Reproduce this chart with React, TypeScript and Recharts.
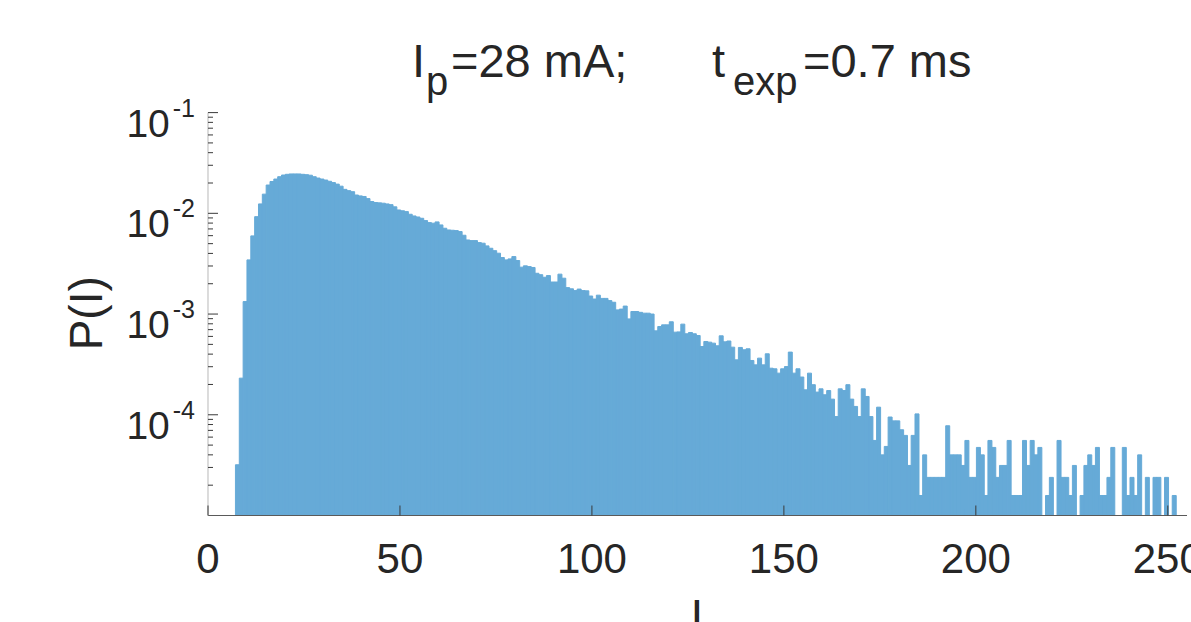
import { BarChart, Bar, XAxis, YAxis } from 'recharts';

// histogram P(I): one bin per intensity unit, first bin edge at I = 7.15
const firstEdge = 7.15;
const binWidth = 1;
const probability = [
  3.19e-5, 2.31e-4, 1.33e-3, 3.45e-3, 5.97e-3, 9.27e-3, 1.24e-2, 1.55e-2, 1.91e-2, 2.07e-2,
  2.19e-2, 2.31e-2, 2.4e-2, 2.44e-2, 2.46e-2, 2.46e-2, 2.46e-2, 2.44e-2, 2.42e-2, 2.39e-2,
  2.31e-2, 2.24e-2, 2.19e-2, 2.14e-2, 2.08e-2, 2.02e-2, 1.95e-2, 1.86e-2, 1.73e-2, 1.68e-2,
  1.64e-2, 1.52e-2, 1.49e-2, 1.47e-2, 1.4e-2, 1.31e-2, 1.28e-2, 1.27e-2, 1.26e-2, 1.24e-2,
  1.22e-2, 1.16e-2, 1.08e-2, 1.06e-2, 1.04e-2, 9.79e-3, 9.42e-3, 9.2e-3, 8.93e-3, 8.47e-3,
  8.09e-3, 7.98e-3, 8.22e-3, 7.67e-3, 7.11e-3, 6.84e-3, 6.79e-3, 6.74e-3, 6.59e-3, 6.06e-3,
  5.44e-3, 5.36e-3, 5.36e-3, 5.12e-3, 5.05e-3, 4.75e-3, 4.5e-3, 4.26e-3, 4.02e-3, 3.64e-3,
  3.45e-3, 3.53e-3, 3.72e-3, 3.4e-3, 2.92e-3, 3.01e-3, 2.96e-3, 2.9e-3, 2.54e-3, 2.46e-3,
  2.32e-3, 2.41e-3, 2.08e-3, 2.08e-3, 2.49e-3, 2.27e-3, 1.83e-3, 1.78e-3, 1.71e-3, 1.77e-3,
  1.71e-3, 1.7e-3, 1.51e-3, 1.41e-3, 1.54e-3, 1.43e-3, 1.43e-3, 1.36e-3, 1.31e-3, 1.1e-3,
  1.12e-3, 1.2e-3, 8.95e-4, 1.06e-3, 1.06e-3, 1.04e-3, 1.02e-3, 1.02e-3, 1.0e-3, 6.81e-4,
  7.52e-4, 7.81e-4, 7.81e-4, 8.38e-4, 6.61e-4, 6.65e-4, 7.94e-4, 6.37e-4, 6.56e-4, 6.37e-4,
  6.12e-4, 4.76e-4, 5.34e-4, 5.26e-4, 5.14e-4, 4.84e-4, 6.08e-4, 5.3e-4, 5.4e-4, 4.69e-4,
  3.51e-4, 4.66e-4, 4.42e-4, 4.52e-4, 3.46e-4, 3.13e-4, 3.65e-4, 3.13e-4, 4.03e-4, 2.9e-4,
  2.86e-4, 2.59e-4, 2.86e-4, 3.01e-4, 4.19e-4, 2.59e-4, 2.86e-4, 2.37e-4, 1.77e-4, 2.59e-4,
  1.99e-4, 1.68e-4, 1.81e-4, 1.58e-4, 1.74e-4, 1.43e-4, 9.6e-5, 1.81e-4, 1.74e-4, 1.99e-4,
  1.43e-4, 1.21e-4, 9.6e-5, 1.81e-4, 1.52e-4, 9.6e-5, 5.56e-5, 1.19e-4, 4.0e-5, 4.85e-5,
  9.5e-5, 8.7e-5, 8.7e-5, 7.1e-5, 6.24e-5, 3.14e-5, 6.24e-5, 1.02e-4, 1.58e-5, 4.0e-5,
  2.39e-5, 2.39e-5, 2.39e-5, 2.39e-5, 2.39e-5, 7.78e-5, 4.0e-5, 4.0e-5, 4.0e-5, 3.14e-5,
  5.56e-5, 2.39e-5, 2.39e-5, 4.74e-5, 4.0e-5, 1.58e-5, 5.56e-5, 4.74e-5, 2.39e-5, 3.14e-5,
  3.14e-5, 5.56e-5, 1.58e-5, 1.58e-5, 1.58e-5, 5.56e-5, 3.14e-5, 5.56e-5, 4.0e-5, 4.74e-5,
  null, 1.58e-5, 2.39e-5, null, 5.56e-5, 2.39e-5, 2.39e-5, 1.58e-5, 3.14e-5, null,
  1.58e-5, 3.14e-5, 4.0e-5, 3.14e-5, 4.74e-5, 1.58e-5, 1.58e-5, 2.39e-5, 4.74e-5, null,
  null, 4.74e-5, 1.58e-5, 2.39e-5, 1.58e-5, 4.0e-5, null, 2.39e-5, null, 2.39e-5,
  2.39e-5, null, 2.39e-5, null, 1.58e-5,
];

const xTicks = [0, 50, 100, 150, 200, 250];
const yMajor = [1e-4, 1e-3, 1e-2, 1e-1];
const yMinorMult = [2, 3, 4, 5, 6, 7, 8, 9];
const yDecades = [1e-5, 1e-4, 1e-3, 1e-2];

const yTicks = [
  ...yMajor,
  ...yDecades.flatMap((d) => yMinorMult.map((m) => m * d)),
].sort((a, b) => a - b);

const rows = probability.map((p, i) => ({
  I: firstEdge + i * binWidth + binWidth / 2,
  p,
}));

const FONT = '"Liberation Sans", Arial, Helvetica, sans-serif';
const TEXT = '#262626';
const TICK = '#3a3a3a';
const BAR = '#66aad7';

const isMajor = (v: number) => {
  const l = Math.log10(v);
  return Math.abs(l - Math.round(l)) < 1e-6;
};

const BottomTick = ({ x, y, payload }: any) => (
  <g>
    <line x1={x} y1={y} x2={x} y2={y - 10} stroke={TICK} strokeWidth={1} />
    <text x={x} y={y + 57} textAnchor="middle" fontSize={42} fill={TEXT} fontFamily={FONT}>
      {payload.value}
    </text>
  </g>
);

const TopTick = ({ x, y }: any) => (
  <line x1={x} y1={y} x2={x} y2={y + 10} stroke={TICK} strokeWidth={1} />
);

const LeftTick = ({ x, y, payload }: any) => {
  const major = isMajor(payload.value);
  const exp = Math.round(Math.log10(payload.value));
  return (
    <g>
      <line x1={x} y1={y} x2={x + (major ? 10 : 5)} y2={y} stroke={TICK} strokeWidth={1} />
      {major && (
        <text x={x - 13} y={y + 24} textAnchor="end" fill={TEXT} fontFamily={FONT}>
          <tspan fontSize={39}>10</tspan>
          <tspan fontSize={25} dx={3} dy={-20}>{'-' + Math.abs(exp)}</tspan>
        </text>
      )}
    </g>
  );
};

const RightTick = ({ x, y, payload }: any) => (
  <line x1={x} y1={y} x2={x - (isMajor(payload.value) ? 10 : 5)} y2={y} stroke={TICK} strokeWidth={1} />
);

export default function App() {
  return (
    <div style={{ position: 'absolute', left: 0, top: 0, width: 1191, height: 622, background: '#fff', overflow: 'hidden' }}>
      <BarChart
        width={1191}
        height={622}
        data={rows}
        margin={{ top: 112.6, right: 4, bottom: 0, left: 0 }}
        barCategoryGap={0}
        barGap={0}
      >
        <XAxis
          xAxisId="b"
          dataKey="I"
          type="number"
          domain={[0, 255]}
          allowDataOverflow
          ticks={xTicks}
          interval={0}
          height={106.5}
          tickSize={0}
          tickMargin={0}
          tickLine={false}
          tick={<BottomTick />}
          axisLine={{ stroke: '#5a5a5a', strokeWidth: 1.2 }}
        />
        <XAxis
          xAxisId="t"
          dataKey="I"
          type="number"
          orientation="top"
          domain={[0, 255]}
          allowDataOverflow
          ticks={xTicks}
          interval={0}
          height={0}
          tickSize={0}
          tickMargin={0}
          tickLine={false}
          tick={<TopTick />}
          axisLine={{ stroke: '#6a6a6a', strokeWidth: 1.2 }}
        />
        <YAxis
          yAxisId="l"
          type="number"
          scale="log"
          domain={[1e-5, 1e-1]}
          allowDataOverflow
          ticks={yTicks}
          interval={0}
          width={208}
          tickSize={0}
          tickMargin={0}
          tickLine={false}
          tick={<LeftTick />}
          axisLine={{ stroke: '#c4c4c4', strokeWidth: 1.2 }}
        />
        <YAxis
          yAxisId="r"
          orientation="right"
          type="number"
          scale="log"
          domain={[1e-5, 1e-1]}
          allowDataOverflow
          ticks={yTicks}
          interval={0}
          width={0}
          tickSize={0}
          tickMargin={0}
          tickLine={false}
          tick={<RightTick />}
          axisLine={{ stroke: '#c4c4c4', strokeWidth: 1.2 }}
        />
        <Bar
          xAxisId="b"
          yAxisId="l"
          dataKey="p"
          fill={BAR}
          stroke={BAR}
          strokeWidth={1}
          isAnimationActive={false}
        />
      </BarChart>

      <svg width={1191} height={622} style={{ position: 'absolute', left: 0, top: 0, pointerEvents: 'none' }}>
        <g fill={TEXT} fontFamily={FONT}>
          <text y={77} fontSize={47}>
            <tspan x={412}>I</tspan>
            <tspan x={426} y={95} fontSize={40}>p</tspan>
            <tspan x={451} y={77}>=28 mA;</tspan>
            <tspan x={712}>t</tspan>
            <tspan x={733} y={95} fontSize={40}>exp</tspan>
            <tspan x={803} y={77}>=0.7 ms</tspan>
          </text>
          <text x={101.7} y={313.3} fontSize={46} textAnchor="middle" transform="rotate(-90, 101.7, 313.3)">
            P(I)
          </text>
          <text x={697} y={632} fontSize={46} textAnchor="middle">
            I
          </text>
        </g>
      </svg>
    </div>
  );
}
